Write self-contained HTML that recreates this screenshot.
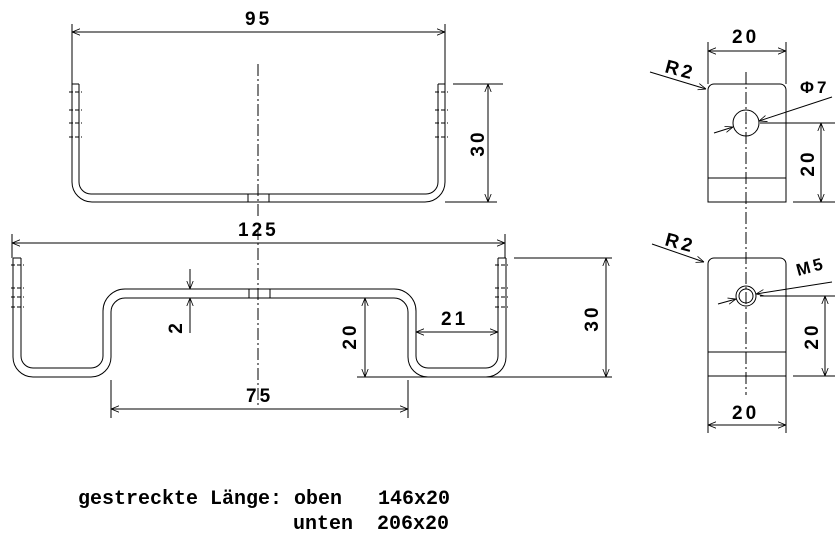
<!DOCTYPE html>
<html><head><meta charset="utf-8"><style>
html,body{margin:0;padding:0;background:#fff;}
svg{display:block;}
text{font-family:"Liberation Sans",sans-serif;font-weight:bold;fill:#000;}
.d{font-size:19px;letter-spacing:3px;}
.m{font-family:"Liberation Mono",monospace;font-size:20px;}
</style></head><body>
<svg width="840" height="545" viewBox="0 0 840 545" xmlns="http://www.w3.org/2000/svg">
<defs>
<marker id="a" viewBox="0 0 10 10" refX="10" refY="5" markerWidth="8" markerHeight="8" orient="auto-start-reverse" markerUnits="userSpaceOnUse">
<path d="M0,1 L10,5 L0,9" fill="none" stroke="#000" stroke-width="1"/></marker>
</defs>
<g fill="none" stroke="#000" stroke-width="1">
<path d="M72,84 V182 A20 20 0 0 0 92,202 H425 A20 20 0 0 0 445,182 V84"/>
<path d="M79,84 V182 A12 12 0 0 0 91,194 H426 A12 12 0 0 0 438,182 V84"/>
<path d="M72,84 H79 M438,84 H445"/>
<path d="M69,92 H82 M69,110 H82 M69,123 H82 M69,137 H82 M435,92 H448 M435,110 H448 M435,123 H448 M435,137 H448" stroke-dasharray="4,2"/>
<path d="M248,194 V202 M269,194 V202"/>
<path d="M258,64 V218" stroke-dasharray="12,3,2,3"/>
<path d="M72,24 V84 M445,24 V84"/>
<path d="M72,32 H445" marker-start="url(#a)" marker-end="url(#a)"/>
<path d="M453,84 H503 M445,202 H497"/>
<path d="M488,84 V202" marker-start="url(#a)" marker-end="url(#a)"/>
<path d="M13,258 V357 A20 20 0 0 0 33,377 H91 A20 20 0 0 0 111,357 V312 A14 14 0 0 1 125,298 H394 A14 14 0 0 1 408,312 V357 A20 20 0 0 0 428,377 H486 A20 20 0 0 0 506,357 V258"/>
<path d="M21,258 V356 A12 12 0 0 0 33,368 H91 A12 12 0 0 0 103,356 V311 A22 22 0 0 1 125,289 H394 A22 22 0 0 1 416,311 V356 A12 12 0 0 0 428,368 H486 A12 12 0 0 0 498,356 V258"/>
<path d="M13,258 H21 M498,258 H506"/>
<path d="M11,265 H24 M11,288 H24 M11,297 H24 M11,307 H24 M495,265 H508 M495,288 H508 M495,297 H508 M495,307 H508" stroke-dasharray="4,2"/>
<path d="M249,289 V298 M270,289 V298"/>
<path d="M258,228 V405" stroke-dasharray="12,3,2,3"/>
<path d="M12,234 V258 M505,234 V258"/>
<path d="M12,243 H505" marker-start="url(#a)" marker-end="url(#a)"/>
<path d="M190,269 V289" marker-end="url(#a)"/>
<path d="M190,333 V298" marker-end="url(#a)"/>
<path d="M357,377 H612 M514,258 H612"/>
<path d="M365,298 V377" marker-start="url(#a)" marker-end="url(#a)"/>
<path d="M606,258 V377" marker-start="url(#a)" marker-end="url(#a)"/>
<path d="M416,332 H498" marker-start="url(#a)" marker-end="url(#a)"/>
<path d="M111,380 V418 M408,380 V418"/>
<path d="M111,409 H408" marker-start="url(#a)" marker-end="url(#a)"/>
<path d="M746,72 V395" stroke-dasharray="12,3,2,3"/>
<path d="M708,202 V90 A6 6 0 0 1 714,84 H780 A6 6 0 0 1 786,90 V202 Z M708,178 H786"/>
<circle cx="746" cy="123" r="13"/>
<path d="M708,42 V84 M786,42 V84"/>
<path d="M708,51 H786" marker-start="url(#a)" marker-end="url(#a)"/>
<path d="M650,72 L706,89" marker-end="url(#a)"/>
<path d="M832,97 L759,121" marker-end="url(#a)"/>
<path d="M714,133 L733,127" marker-end="url(#a)"/>
<path d="M760,123 H835 M793,202 H835"/>
<path d="M821,123 V202" marker-start="url(#a)" marker-end="url(#a)"/>
<path d="M708,433 V264 A6 6 0 0 1 714,258 H780 A6 6 0 0 1 786,264 V433 M708,352 H786 M708,376 H786"/>
<circle cx="746" cy="296" r="10"/>
<circle cx="746" cy="296" r="7"/>
<path d="M708,425 H786" marker-start="url(#a)" marker-end="url(#a)"/>
<path d="M652,244 L704,262" marker-end="url(#a)"/>
<path d="M832,282 L756,294" marker-end="url(#a)"/>
<path d="M718,304 L736,299" marker-end="url(#a)"/>
<path d="M760,296 H835 M793,376 H835"/>
<path d="M825,296 V376" marker-start="url(#a)" marker-end="url(#a)"/>
</g>
<g class="d">
<text x="245" y="25">95</text>
<text transform="translate(484,143) rotate(-90)" text-anchor="middle">30</text>
<text x="238" y="236">125</text>
<text transform="translate(182,327) rotate(-90)" text-anchor="middle">2</text>
<text transform="translate(356,336) rotate(-90)" text-anchor="middle">20</text>
<text transform="translate(598,318) rotate(-90)" text-anchor="middle">30</text>
<text x="441" y="325">21</text>
<text x="246" y="402">75</text>
<text x="732" y="43">20</text>
<text transform="translate(664,72) rotate(15)">R2</text>
<text x="800" y="93" style="font-size:17px">Φ7</text>
<text transform="translate(814,163) rotate(-90)" text-anchor="middle">20</text>
<text transform="translate(664,245) rotate(15)">R2</text>
<text transform="translate(798,276) rotate(-15)" style="font-size:17px">M5</text>
<text transform="translate(818,336) rotate(-90)" text-anchor="middle">20</text>
<text x="732" y="419">20</text>
</g>
<text class="m" x="78" y="504" xml:space="preserve">gestreckte Länge: oben   146x20</text>
<text class="m" x="293" y="529" xml:space="preserve">unten  206x20</text>
</svg>
</body></html>
